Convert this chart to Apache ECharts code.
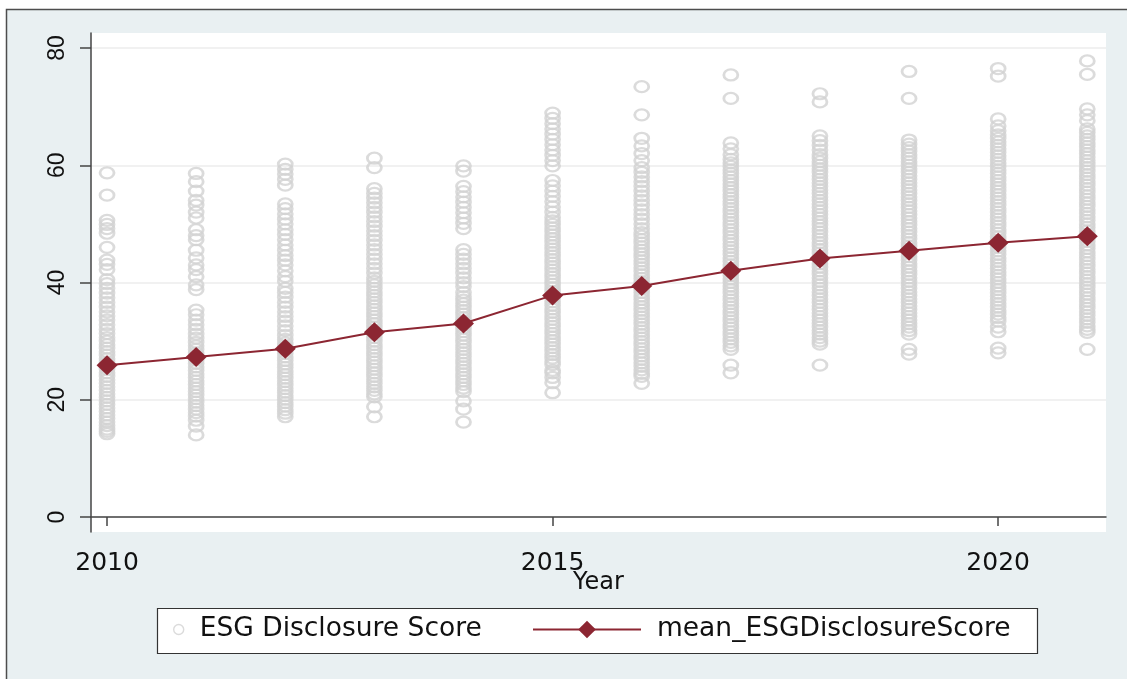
<!DOCTYPE html>
<html>
<head>
<meta charset="utf-8">
<title>ESG Disclosure Score by Year</title>
<script src="https://cdn.jsdelivr.net/npm/echarts@6/dist/echarts.min.js"></script>
<style>
  html, body { margin: 0; padding: 0; background: #fff; }
  #chart { width: 1127px; height: 679px; }
</style>
</head>
<body>
<div id="chart"></div>
<script>
const years = [2010, 2011, 2012, 2013, 2014, 2015, 2016, 2017, 2018, 2019, 2020, 2021];
const meanScore = [25.9, 27.3, 28.7, 31.5, 33.0, 37.8, 39.4, 42.0, 44.1, 45.4, 46.8, 47.9];
const xTicks = [2010, 2015, 2020];
const yTicks = [0, 20, 40, 60, 80];

// firm scores (dense bands typed at ~0.6 steps)
const score2010 = [58.7, 54.9, 50.6, 49.9, 49.2, 48.4, 46.0, 43.8, 43.1, 42.2,
  40.5, 39.8, 39.0, 38.2, 37.4, 36.6, 35.8, 35.0, 34.3, 33.6, 32.8, 32.0, 31.3, 30.6,
  30.0, 29.4, 28.8, 28.2, 27.6, 27.0, 26.4, 25.8, 25.2, 24.6, 24.0, 23.4, 22.8, 22.2,
  21.6, 21.0, 20.4, 19.8, 19.2, 18.6, 18.0, 17.4, 16.8, 16.2, 15.6, 15.0, 14.6, 14.2];
const score2011 = [58.6, 57.2, 55.6, 54.0, 53.2, 52.0, 51.0, 49.0, 48.0, 47.3, 45.5, 44.2,
  43.0, 42.2, 41.0, 39.6, 38.8, 35.3, 34.5, 33.6, 32.8, 32.0, 31.2, 30.5,
  29.8, 29.2, 28.6, 28.0, 27.4, 26.8, 26.2, 25.6, 25.0, 24.4, 23.8, 23.2, 22.6, 22.0,
  21.4, 20.8, 20.2, 19.6, 19.0, 18.4, 17.8, 17.2, 16.5, 15.5, 14.0];
const score2012 = [60.2, 59.3, 58.5, 57.6, 56.6, 53.4, 52.6, 51.7, 50.8, 50.0, 49.0, 48.2,
  47.3, 46.4, 45.5, 44.6, 43.8, 43.0, 42.0, 41.0, 40.2, 39.0, 38.3, 37.5, 36.6, 35.8,
  35.0, 34.2, 33.4, 32.6, 31.8, 31.0, 30.3,
  29.7, 29.1, 28.5, 27.9, 27.3, 26.7, 26.1, 25.5, 24.9, 24.3, 23.7, 23.1, 22.5, 21.9,
  21.3, 20.7, 20.1, 19.5, 18.9, 18.3, 17.7, 17.1];
const score2013 = [61.2, 59.6, 56.0, 55.2, 54.4, 53.6, 52.8, 52.0, 51.2, 50.4, 49.6, 48.8,
  48.0, 47.2, 46.4, 45.6, 44.8, 44.0, 43.2, 42.4, 41.6, 40.8,
  40.2, 39.6, 39.0, 38.4, 37.8, 37.2, 36.6, 36.0, 35.4, 34.8, 34.2, 33.6, 33.0, 32.4,
  31.8, 31.2, 30.6, 30.0, 29.4, 28.8, 28.2, 27.6, 27.0, 26.4, 25.8, 25.2, 24.6, 24.0,
  23.4, 22.8, 22.2, 21.6, 21.0, 20.5, 18.8, 17.1];
const score2014 = [59.9, 59.0, 56.4, 55.5, 54.6, 53.7, 52.8, 51.9, 51.0, 50.1, 49.2,
  45.6, 44.8, 44.0, 43.2, 42.4, 41.6, 40.8, 40.0, 39.3, 38.3,
  37.6, 37.0, 36.4, 35.8, 35.2, 34.6, 34.0, 33.4, 32.8, 32.2, 31.6, 31.0, 30.4, 29.8,
  29.2, 28.6, 28.0, 27.4, 26.8, 26.2, 25.6, 25.0, 24.4, 23.8, 23.2, 22.6, 22.0, 21.4,
  19.8, 18.4, 16.2];
const score2015 = [68.9, 68.0, 67.1, 66.2, 65.3, 64.4, 63.5, 62.6, 61.7, 60.8, 59.9,
  57.4, 56.5, 55.6, 54.7, 53.8, 52.9, 52.0, 51.1,
  50.5, 49.9, 49.3, 48.7, 48.1, 47.5, 46.9, 46.3, 45.7, 45.1, 44.5, 43.9, 43.3, 42.7,
  42.1, 41.5, 40.9, 40.3, 39.7, 39.1, 38.5, 37.9, 37.3, 36.7, 36.1, 35.5, 34.9, 34.3,
  33.7, 33.1, 32.5, 31.9, 31.3, 30.7, 30.1, 29.5, 28.9, 28.3, 27.7, 27.1, 26.5, 26.0,
  25.0, 24.6, 23.8, 22.9, 21.2];
const score2016 = [73.4, 68.6, 64.6, 63.3, 62.0, 60.8, 59.6, 58.8, 58.0, 57.2, 56.4, 55.6,
  54.8, 54.0, 53.2, 52.4, 51.6, 50.8, 50.0, 49.2,
  48.5, 47.9, 47.3, 46.7, 46.1, 45.5, 44.9, 44.3, 43.7, 43.1, 42.5, 41.9, 41.3, 40.7,
  40.1, 39.5, 38.9, 38.3, 37.7, 37.1, 36.5, 35.9, 35.3, 34.7, 34.1, 33.5, 32.9, 32.3,
  31.7, 31.1, 30.5, 29.9, 29.3, 28.7, 28.1, 27.5, 26.9, 26.3, 25.7, 25.1, 24.5, 24.0,
  22.8];
const score2017 = [75.4, 71.4, 63.8, 62.8, 61.8,
  61.0, 60.4, 59.8, 59.2, 58.6, 58.0, 57.4, 56.8, 56.2, 55.6, 55.0, 54.4, 53.8, 53.2,
  52.6, 52.0, 51.4, 50.8, 50.2, 49.6, 49.0, 48.4, 47.8, 47.2, 46.6, 46.0, 45.4, 44.8,
  44.2, 43.6, 43.0, 42.4, 41.8, 41.2, 40.6, 40.0, 39.4, 38.8, 38.2, 37.6, 37.0, 36.4,
  35.8, 35.2, 34.6, 34.0, 33.4, 32.8, 32.2, 31.6, 31.0, 30.4, 29.8, 29.2, 28.6,
  25.9, 24.6];
const score2018 = [72.2, 70.8, 65.0, 64.2, 63.4, 62.6,
  61.8, 61.2, 60.6, 60.0, 59.4, 58.8, 58.2, 57.6, 57.0, 56.4, 55.8, 55.2, 54.6, 54.0,
  53.4, 52.8, 52.2, 51.6, 51.0, 50.4, 49.8, 49.2, 48.6, 48.0, 47.4, 46.8, 46.2, 45.6,
  45.0, 44.4, 43.8, 43.2, 42.6, 42.0, 41.4, 40.8, 40.2, 39.6, 39.0, 38.4, 37.8, 37.2,
  36.6, 36.0, 35.4, 34.8, 34.2, 33.6, 33.0, 32.4, 31.8, 31.2, 30.6, 30.0, 29.5,
  25.9];
const score2019 = [76.0, 71.4, 64.3, 63.6,
  63.0, 62.4, 61.8, 61.2, 60.6, 60.0, 59.4, 58.8, 58.2, 57.6, 57.0, 56.4, 55.8, 55.2,
  54.6, 54.0, 53.4, 52.8, 52.2, 51.6, 51.0, 50.4, 49.8, 49.2, 48.6, 48.0, 47.4, 46.8,
  46.2, 45.6, 45.0, 44.4, 43.8, 43.2, 42.6, 42.0, 41.4, 40.8, 40.2, 39.6, 39.0, 38.4,
  37.8, 37.2, 36.6, 36.0, 35.4, 34.8, 34.2, 33.6, 33.0, 32.4, 31.8, 31.2,
  28.6, 27.8];
const score2020 = [76.5, 75.2, 67.9, 66.7, 65.9,
  65.2, 64.6, 64.0, 63.4, 62.8, 62.2, 61.6, 61.0, 60.4, 59.8, 59.2, 58.6, 58.0, 57.4,
  56.8, 56.2, 55.6, 55.0, 54.4, 53.8, 53.2, 52.6, 52.0, 51.4, 50.8, 50.2, 49.6, 49.0,
  48.4, 47.8, 47.2, 46.6, 46.0, 45.4, 44.8, 44.2, 43.6, 43.0, 42.4, 41.8, 41.2, 40.6,
  40.0, 39.4, 38.8, 38.2, 37.6, 37.0, 36.4, 35.8, 35.2, 34.6, 34.0,
  33.4, 32.4, 31.6, 28.8, 28.0];
const score2021 = [77.8, 75.5, 69.6, 68.6, 67.6, 66.2,
  65.6, 65.0, 64.4, 63.8, 63.2, 62.6, 62.0, 61.4, 60.8, 60.2, 59.6, 59.0, 58.4, 57.8,
  57.2, 56.6, 56.0, 55.4, 54.8, 54.2, 53.6, 53.0, 52.4, 51.8, 51.2, 50.6, 50.0, 49.4,
  48.8, 48.2, 47.6, 47.0, 46.4, 45.8, 45.2, 44.6, 44.0, 43.4, 42.8, 42.2, 41.6, 41.0,
  40.4, 39.8, 39.2, 38.6, 38.0, 37.4, 36.8, 36.2, 35.6, 35.0, 34.4, 33.8, 33.2, 32.6,
  32.0, 31.5, 28.6];

const scoresByYear = [score2010, score2011, score2012, score2013, score2014, score2015,
  score2016, score2017, score2018, score2019, score2020, score2021];

const scatterData = [];
scoresByYear.forEach((vals, i) => {
  vals.forEach(v => scatterData.push([years[i], v]));
});
const meanData = years.map((y, i) => [y, meanScore[i]]);

const axisColor = '#444';
const textColor = '#111';
const dotColor = '#d2d2d2';
const meanColor = '#8c2632';

const chart = echarts.init(document.getElementById('chart'));

const option = {
  backgroundColor: '#fff',
  animation: false,
  graphic: [
    { // Stata-style outer panel
      type: 'rect', silent: true, z: -1,
      shape: { x: 6.5, y: 9.5, width: 1200, height: 800 },
      style: { fill: '#e9f0f2', stroke: '#4d4d4d', lineWidth: 1.5 }
    },
    { // legend frame
      type: 'rect', silent: true, z: 1,
      shape: { x: 157.5, y: 608.5, width: 880, height: 45 },
      style: { fill: '#fff', stroke: '#333', lineWidth: 1.2 }
    }
  ],
  grid: {
    left: 91, right: 21, top: 33, bottom: 147,
    show: true, backgroundColor: '#fff', borderWidth: 0
  },
  xAxis: {
    type: 'value', min: 2009.82, max: 2021.21,
    name: 'Year', nameLocation: 'middle', nameGap: 39, nameMoveOverlap: false,
    nameTextStyle: { fontFamily: 'DejaVu Sans', fontSize: 24, color: textColor },
    axisLine: { lineStyle: { color: axisColor, width: 1.5 } },
    axisTick: { length: 9, customValues: xTicks, lineStyle: { color: axisColor, width: 1.5 } },
    axisLabel: {
      customValues: xTicks, margin: 19,
      fontFamily: 'DejaVu Sans', fontSize: 25, color: textColor,
      formatter: v => String(v)
    },
    splitLine: { show: false }
  },
  yAxis: {
    type: 'value', min: -2.56, max: 82.56,
    axisLine: { show: true, lineStyle: { color: axisColor, width: 1.5 } },
    axisTick: { show: true, length: 11, customValues: yTicks, lineStyle: { color: axisColor, width: 1.5 } },
    axisLabel: {
      customValues: yTicks, rotate: 90, margin: 22,
      fontFamily: 'Liberation Sans', fontSize: 23, color: textColor,
      formatter: v => String(v)
    },
    splitLine: { show: true, lineStyle: { color: '#ececec', width: 1.5 } }
  },
  legend: [
    {
      data: ['ESG Disclosure Score'], left: 173, top: 616, padding: 0,
      itemWidth: 10, itemHeight: 10, selectedMode: false,
      itemStyle: { borderWidth: 1.4 },
      textStyle: { fontFamily: 'DejaVu Sans', fontSize: 26.5, color: textColor, padding: [0, 0, 0, 11] }
    },
    {
      data: ['mean_ESGDisclosureScore'], left: 532, top: 616, padding: 0,
      itemWidth: 108, itemHeight: 22, selectedMode: false,
      textStyle: { fontFamily: 'DejaVu Sans', fontSize: 26.5, color: textColor, padding: [0, 0, 0, 11] }
    }
  ],
  series: [
    {
      name: 'ESG Disclosure Score',
      type: 'scatter',
      data: scatterData,
      symbol: 'circle',
      symbolSize: [14, 11],
      z: 2,
      itemStyle: { color: 'rgba(0,0,0,0)', borderColor: dotColor, borderWidth: 2.5 }
    },
    {
      name: 'mean_ESGDisclosureScore',
      type: 'line',
      data: meanData,
      symbol: 'diamond',
      symbolSize: [21, 20],
      z: 3,
      itemStyle: { color: meanColor },
      lineStyle: { color: meanColor, width: 2 }
    }
  ]
};

chart.setOption(option);
</script>
</body>
</html>
